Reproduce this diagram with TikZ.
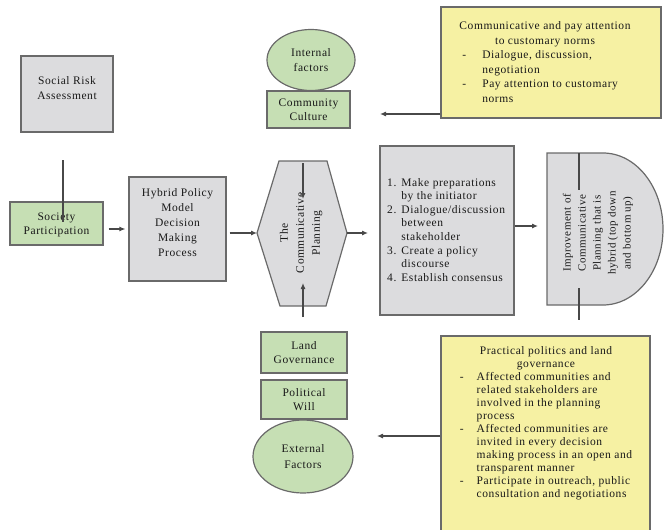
\documentclass[tikz,border=0pt]{standalone}
\usepackage{fontspec}
\setmainfont{Liberation Serif}[LetterSpace=5]
\usetikzlibrary{shapes.geometric,arrows.meta}
\definecolor{boxgray}{HTML}{DCDCDE}
\definecolor{boxgreen}{HTML}{C6DFB4}
\definecolor{boxyellow}{HTML}{F6F1A3}
\definecolor{edgegray}{HTML}{6A6A6A}
\definecolor{linegray}{HTML}{484848}
\begin{document}
\begin{tikzpicture}[x=1pt,y=-1pt,
  txt/.style={inner sep=0pt, align=center, text=black!90, font=\fontsize{11.5}{14.5}\selectfont},
  base/.style={txt, draw=edgegray, line width=1.2pt},
  graybox/.style={base, fill=boxgray},
  greenbox/.style={base, fill=boxgreen},
  yellowbox/.style={base, fill=boxyellow},
  greenell/.style={base, ellipse, fill=boxgreen},
  conn/.style={draw=linegray, line width=1.1pt},
  arr/.style={conn, -{Latex[length=6pt,width=5pt]}}]
\useasboundingbox (0,0) rectangle (665,530);
\clip (0,0) rectangle (665,530);

% left column
\node[graybox, minimum width=92pt, minimum height=76pt] (sra) at (67,94) {};
\node[txt] (sratext) at (67,88) {Social Risk\\Assessment};
\node[greenbox, minimum width=93pt, minimum height=43pt] (soc) at (56.5,223.5) {};
\node[txt] (soctext) at (56.5,225) {Society\\Participation};
\coordinate (srtop) at (63,160);
\coordinate (srbot) at (63,222);
\draw[conn] (srtop) -- (srbot);

\node[graybox, minimum width=97pt, minimum height=104pt] (hyb) at (177.5,229) {};
\node[txt, font=\fontsize{11.5}{15}\selectfont] (hybtext) at (177.5,223) {Hybrid Policy\\Model\\Decision\\Making\\Process};
\draw[arr, shorten <=5pt, shorten >=3pt] (soc.east |- hyb.west) -- (hyb.west);

% hexagon
\coordinate (hW) at (257,233);
\coordinate (hNW) at (279,161);
\coordinate (hNE) at (327,161);
\coordinate (hE) at (347,233);
\coordinate (hSE) at (326,306);
\coordinate (hSW) at (280,306);
\filldraw[draw=edgegray, fill=boxgray, line width=1.2pt] (hW) -- (hNW) -- (hNE) -- (hE) -- (hSE) -- (hSW) -- cycle;
\node[txt, rotate=90, font=\fontsize{11.5}{16}\selectfont] (hextext) at (301,233) {The\\Communicative\\Planning};
\draw[arr, shorten <=3pt] (hyb.east |- hW) -- (hW);
\coordinate (htopA) at (303,163);
\coordinate (htopB) at (303,199);
\coordinate (hbotA) at (303,317);
\coordinate (hbotB) at (303,283);
\draw[arr] (htopA) -- (htopB);
\draw[arr] (hbotA) -- (hbotB);

% upper factors
\node[greenell, minimum width=88pt, minimum height=61pt] (intf) at (311,60) {Internal\\factors};
\node[greenbox, minimum width=83pt, minimum height=37pt, font=\fontsize{11.5}{13.5}\selectfont] (cult) at (308.5,109.5) {Community\\Culture};

% lower factors
\node[greenbox, minimum width=86pt, minimum height=41pt] (landg) at (304,352.5) {Land\\Governance};
\node[greenbox, minimum width=86pt, minimum height=39pt] (polw) at (304,399.5) {Political\\Will};
\node[greenell, minimum width=100pt, minimum height=73pt, font=\fontsize{11.5}{16}\selectfont] (extf) at (303,456.5) {External\\Factors};

% steps box
\node[graybox, minimum width=134pt, minimum height=169pt] (steps) at (447,230.5) {};
\node[txt, anchor=west, align=left, font=\fontsize{11.5}{13.6}\selectfont] (stepstext) at (387,231)
  {\begin{tabular}{@{}l@{\hspace{5pt}}l@{}}
   1. & Make preparations\\
      & by the initiator\\
   2. & Dialogue/discussion\\
      & between\\
      & stakeholder\\
   3. & Create a policy\\
      & discourse\\
   4. & Establish consensus
   \end{tabular}};
\coordinate (hOut) at (368,233);
\draw[arr] (hE) -- (hOut);

% D shape
\coordinate (dNW) at (547,153);
\coordinate (dNE) at (603,153);
\coordinate (dSW) at (547,305);
\filldraw[draw=edgegray, fill=boxgray, line width=1.2pt] (dNW) -- (dNE)
  arc[start angle=-90, end angle=90, x radius=60, y radius=76] -- (dSW) -- cycle;
\node[txt, rotate=90, font=\fontsize{11}{15}\selectfont] (dtext) at (598,233)
  {Improvement of\\Communicative\\Planning that is\\hybrid (top down\\and bottom up)};
\coordinate (dW) at (547,226);
\draw[arr, shorten >=9pt] (steps.east |- dW) -- (dW);
\coordinate (dlA) at (579,153);
\coordinate (dlB) at (579,190);
\coordinate (dlC) at (579,288);
\coordinate (dlD) at (579,320);
\draw[conn] (dlA) -- (dlB);
\draw[conn] (dlC) -- (dlD);

% yellow boxes
\node[yellowbox, minimum width=220pt, minimum height=111pt] (ytop) at (551,62.5) {};
\node[txt, font=\fontsize{11.5}{14.5}\selectfont] (ytoptext) at (545,63)
  {\begin{tabular}{@{\hspace{3pt}}l@{\hspace{16pt}}l@{}}
   \multicolumn{2}{@{}c@{}}{Communicative and pay attention}\\
   \multicolumn{2}{@{}c@{}}{to customary norms}\\
   - & Dialogue, discussion,\\
     & negotiation\\
   - & Pay attention to customary\\
     & norms
   \end{tabular}};
\coordinate (ytEnd) at (380,114);
\draw[arr] (ytop.west |- ytEnd) -- (ytEnd);

\node[yellowbox, minimum width=209pt, minimum height=196pt] (ybot) at (545.5,434) {};
\node[txt, font=\fontsize{11.5}{13}\selectfont] (ybottext) at (546,423)
  {\begin{tabular}{@{}l@{\hspace{13pt}}l@{}}
   \multicolumn{2}{@{}c@{}}{Practical politics and land}\\
   \multicolumn{2}{@{}c@{}}{governance}\\
   - & Affected communities and\\
     & related stakeholders are\\
     & involved in the planning\\
     & process\\
   - & Affected communities are\\
     & invited in every decision\\
     & making process in an open and\\
     & transparent manner\\
   - & Participate in outreach, public\\
     & consultation and negotiations
   \end{tabular}};
\coordinate (ybEnd) at (377,436);
\draw[arr] (ybot.west |- ybEnd) -- (ybEnd);
\end{tikzpicture}
\end{document}
